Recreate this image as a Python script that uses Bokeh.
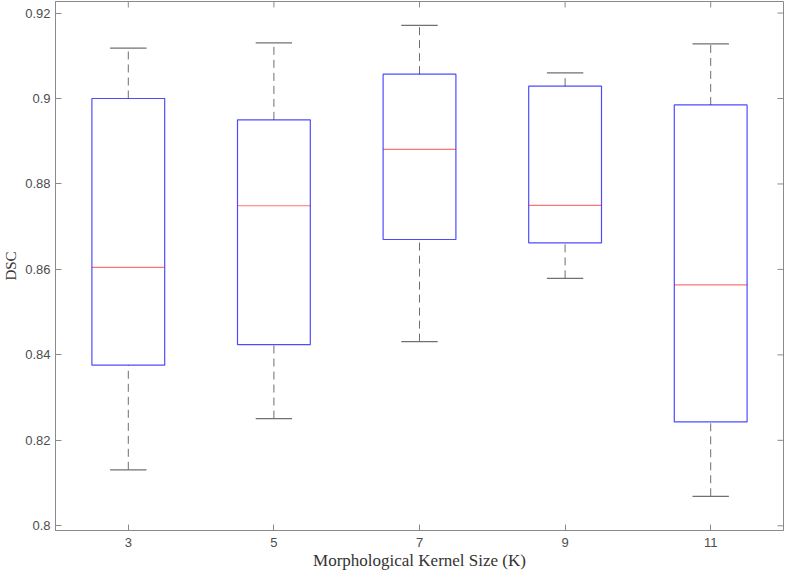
import math
from bokeh.plotting import figure
from bokeh.models import Range1d, FixedTicker, ColumnDataSource
from bokeh.embed import file_html
from bokeh.resources import INLINE

# ---- data ----
kernel_sizes = ["3", "5", "7", "9", "11"]
upper_whisker = [0.9118, 0.9130, 0.9171, 0.9060, 0.9128]
q3 = [0.9000, 0.8950, 0.9057, 0.9029, 0.8985]
median = [0.8605, 0.8749, 0.8881, 0.8750, 0.8564]
q1 = [0.8376, 0.8424, 0.8670, 0.8662, 0.8243]
lower_whisker = [0.8131, 0.8251, 0.8431, 0.8579, 0.8069]
y_ticks = [0.80, 0.82, 0.84, 0.86, 0.88, 0.90, 0.92]

pos = list(range(1, len(kernel_sizes) + 1))
box_half = 0.25
cap_half = 0.125
X0, X1 = 0.5, 5.5
Y0, Y1 = 0.7989, 0.9227

src = ColumnDataSource(dict(
    x=pos,
    left=[p_ - box_half for p_ in pos],
    right=[p_ + box_half for p_ in pos],
    cl=[p_ - cap_half for p_ in pos],
    cr=[p_ + cap_half for p_ in pos],
    up=upper_whisker, q3=q3, med=median, q1=q1, lo=lower_whisker,
))

AX = "#8a8a8a"
TXT = "#4d4d4d"
SANS = "Liberation Sans"
SERIF = "Liberation Serif"

p = figure(width=784, height=572, output_backend="svg", toolbar_location=None,
           x_range=Range1d(X0, X1), y_range=Range1d(Y0, Y1),
           min_border_left=10, min_border_right=1, min_border_top=1,
           min_border_bottom=10)
p.grid.visible = False
p.outline_line_color = AX
p.background_fill_color = "white"
p.border_fill_color = "white"

# whiskers (dashed) and caps
p.segment(x0="x", y0="q3", x1="x", y1="up", source=src, line_color="#6e6e6e",
          line_width=1, line_dash="8 5")
p.segment(x0="x", y0="lo", x1="x", y1="q1", source=src, line_color="#6e6e6e",
          line_width=1, line_dash="8 5")
p.segment(x0="cl", y0="up", x1="cr", y1="up", source=src, line_color="#707070", line_width=1.2)
p.segment(x0="cl", y0="lo", x1="cr", y1="lo", source=src, line_color="#707070", line_width=1.2)
# boxes
p.quad(left="left", right="right", bottom="q1", top="q3", source=src,
       fill_color=None, line_color="#0000ff", line_alpha=0.7, line_width=1.2)
# medians
p.segment(x0="left", y0="med", x1="right", y1="med", source=src,
          line_color="#ff0000", line_alpha=0.55, line_width=1.2)

# mirrored inward ticks on the top and right edges (MATLAB box style)
p.ray(x=[X1] * len(y_ticks), y=y_ticks, length=6, length_units="screen",
      angle=math.pi, line_color=AX, line_width=1)
p.ray(x=pos, y=[Y1] * len(pos), length=6, length_units="screen",
      angle=-math.pi / 2, line_color=AX, line_width=1)

# axes styling
for ax in (p.xaxis[0], p.yaxis[0]):
    ax.axis_line_color = AX
    ax.major_tick_line_color = AX
    ax.major_tick_in = 6
    ax.major_tick_out = 0
    ax.minor_tick_line_color = None
    ax.major_label_text_font = SANS
    ax.major_label_text_font_size = "13px"
    ax.major_label_text_color = TXT
    ax.axis_label_text_font = SERIF
    ax.axis_label_text_font_style = "normal"
    ax.axis_label_text_color = "#333333"

p.xaxis.ticker = FixedTicker(ticks=pos)
p.xaxis.major_label_overrides = {p_: k for p_, k in zip(pos, kernel_sizes)}
p.yaxis.ticker = FixedTicker(ticks=y_ticks)
p.yaxis.major_label_overrides = {t: f"{t:g}" for t in y_ticks}
p.xaxis.major_label_standoff = 7
p.yaxis.major_label_standoff = 5

p.yaxis.axis_label = "DSC"
p.yaxis.axis_label_text_font_size = "15px"
p.yaxis.axis_label_standoff = 3
p.xaxis.axis_label = "Morphological Kernel Size (K)"
p.xaxis.axis_label_text_font_size = "17px"
p.xaxis.axis_label_standoff = 1

open("out.html", "w").write(file_html(p, INLINE))
